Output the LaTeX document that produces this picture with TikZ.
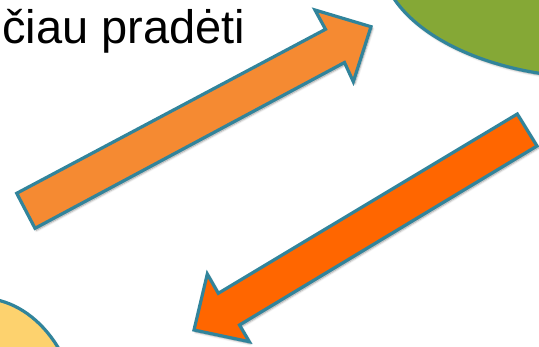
\documentclass[tikz,border=0pt]{standalone}
\usepackage{fontspec}
\setmainfont{Liberation Sans}
\usetikzlibrary{shadows.blur}
\definecolor{edgeteal}{HTML}{31849B}
\definecolor{arrowA}{HTML}{F58A32}
\definecolor{arrowB}{HTML}{FF6600}
\definecolor{greenfill}{HTML}{85A836}
\definecolor{yellowfill}{HTML}{FDD26E}
\tikzset{
  shapeline/.style={draw=edgeteal, line width=3.2pt, line join=miter,
    blur shadow={shadow xshift=1.5pt, shadow yshift=-2pt, shadow blur steps=6, shadow opacity=40}},
}
\begin{document}
\begin{tikzpicture}[x=1pt,y=-1pt]
\useasboundingbox (0,0) rectangle (539,347);
\begin{scope}
\clip (0,0) rectangle (539,347);
% green ellipse top right
\path[shapeline, fill=greenfill] (600,-44.4) ellipse [x radius=220, y radius=122.4];
% yellow ellipse bottom left
\path[shapeline, fill=yellowfill] (-20,430) ellipse [x radius=100, y radius=132];
% arrow 1 (up-right)
\path[shapeline, fill=arrowA]
  (16.7,193.3) -- (325.5,29.3) -- (315,10) -- (371,26.7) -- (353.3,81.7) -- (344.5,62.5) -- (35,228.3) -- cycle;
% arrow 2 (down-left)
\path[shapeline, fill=arrowB]
  (517.3,114) -- (218.3,293.3) -- (207.3,274) -- (194,330) -- (249.3,341.7) -- (239.5,325) -- (537,146) -- cycle;
\end{scope}
\node[anchor=base west, inner sep=0pt, font=\fontsize{47}{52}\selectfont] (title) at (2,43.5) {čiau pradėti};
\end{tikzpicture}
\end{document}
